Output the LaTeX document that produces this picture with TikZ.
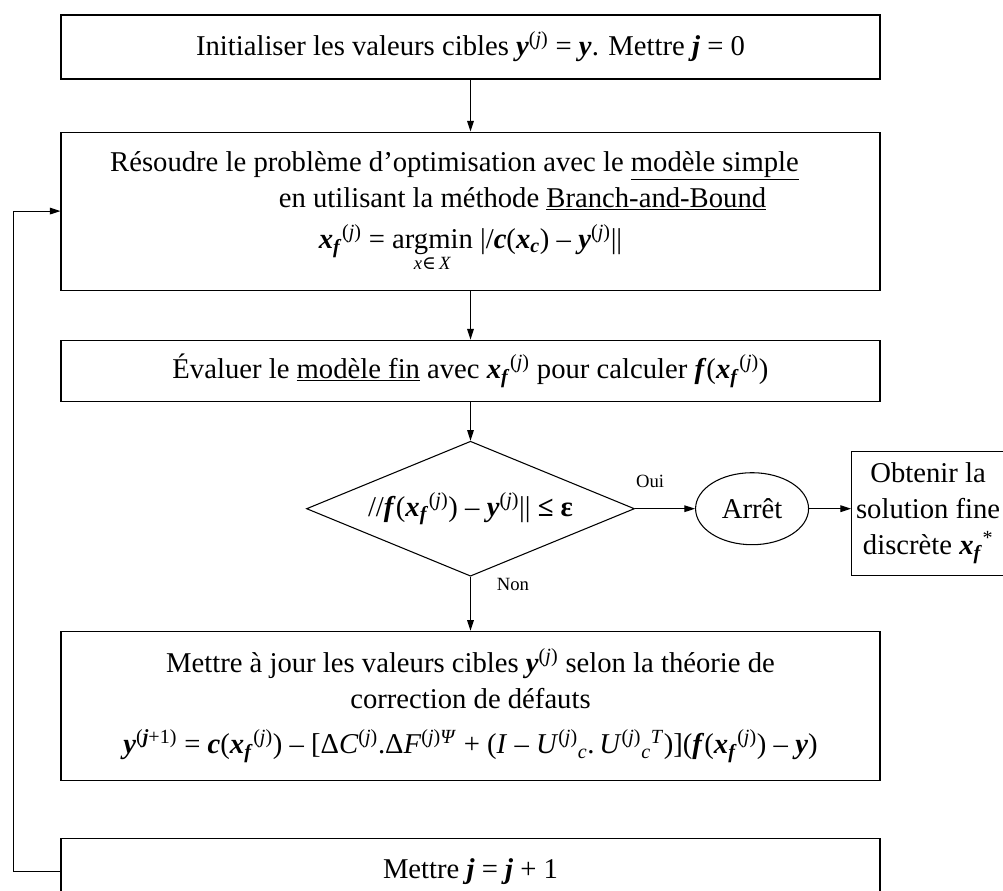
\documentclass[tikz,border=0pt]{standalone}
\usepackage{fontspec}
\setmainfont{Liberation Serif}
\newfontfamily\symfont{DejaVu Serif}
\usetikzlibrary{arrows.meta,positioning,shapes.geometric}
\newcommand{\bi}[1]{\textbf{\textit{#1}}}
\newcommand{\sps}[1]{\textsuperscript{#1}}
\newcommand{\sbs}[1]{\textsubscript{#1}}
\newcommand{\yj}{\bi{y}\sps{(\textit{j})}}
\newcommand{\xfj}{\bi{x}\sbs{\bi{f}}\sps{(\textit{j})}}
\newcommand{\argmn}{\mbox{$\mathop{\mbox{argmin}}\limits_{\mbox{\fontsize{14}{14}\selectfont\textit{x}{\symfont∈}\,\textit{X}}}$}}

\begin{document}
\begin{tikzpicture}[x=0.75pt, y=-0.75pt, line width=0.8pt, >={Triangle[length=8pt,width=5pt]},
    font=\fontsize{21.5}{27}\selectfont,
    box/.style={draw, minimum width=614.25pt, inner sep=2pt, align=center},
    test/.style={draw, diamond, aspect=2.43, inner sep=0pt, minimum width=246pt, minimum height=101.25pt},
    small/.style={font=\fontsize{14}{16}\selectfont}]
    \useasboundingbox (0,0) rectangle (1003,890);
    \clip (0,0) rectangle (1003,890);
    \node[box, minimum height=48pt] (init) at (470.5,47) {Initialiser les valeurs cibles \yj{} = \bi{y}. Mettre \bi{j} = 0};
    \node[box, minimum height=118.5pt, below=39pt of init] (solve) {Résoudre le problème d’optimisation avec le \underline{modèle simple}\hspace*{24pt}\\
        \hspace*{78pt}en utilisant la méthode \underline{Branch-and-Bound}\\[4pt]
        \xfj{} =\ \argmn{} |/\bi{c}(\bi{x}\sbs{\bi{c}}) – \yj||};
    \node[box, minimum height=45.75pt, below=36.75pt of solve] (eval) {Évaluer le \underline{modèle fin} avec \xfj{} pour calculer \bi{f}(\xfj)};
    \node[test, below=29.25pt of eval] (check) {//\bi{f}(\xfj) – \yj|| \textbf{≤ ε}};
    \node[draw, ellipse, minimum width=84.75pt, minimum height=54pt, inner sep=1pt, right=45pt of check] (stop) {Arrêt};
    \node[draw, minimum width=114.75pt, minimum height=93pt, inner sep=1pt, align=center, right=31.5pt of stop, yshift=-3.5pt] (result) {Obtenir la\\solution fine\\discrète \bi{x}\sbs{\bi{f}}\sps{*}};
    \node[box, minimum height=111.75pt, below=40.5pt of check] (update) {Mettre à jour les valeurs cibles \yj{} selon la théorie de\\
        correction de défauts\\[7pt]
        \bi{y}\sps{(\bi{j}+1)} = \bi{c}(\xfj) – [Δ\textit{C}\sps{(\textit{j})}.Δ\textit{F}\sps{(\textit{j})\textit{Ψ}} + (\textit{I} – \textit{U}\sps{(\textit{j})}\sbs{\textit{c}}.\,\textit{U}\sps{(\textit{j})}\sbs{\textit{c}}\sps{\textit{T}})](\bi{f}(\xfj) – \bi{y})};
    \node[box, minimum height=49.5pt, below=42.75pt of update] (incr) {Mettre \bi{j} = \bi{j} + 1};
    \draw[->] (init) -- (solve);
    \draw[->] (solve) -- (eval);
    \draw[->] (eval) -- (check);
    \draw[->] (check) -- node[small, pos=0.25, above=12pt] {Oui} (stop);
    \draw[->] (stop) -- (stop -| result.west);
    \draw[->] (check) -- node[small, pos=0.15, right=16pt] {Non} (update);
    \draw[->] (incr.west) -- ++(-47,0) |- (solve.west);
\end{tikzpicture}
\end{document}
